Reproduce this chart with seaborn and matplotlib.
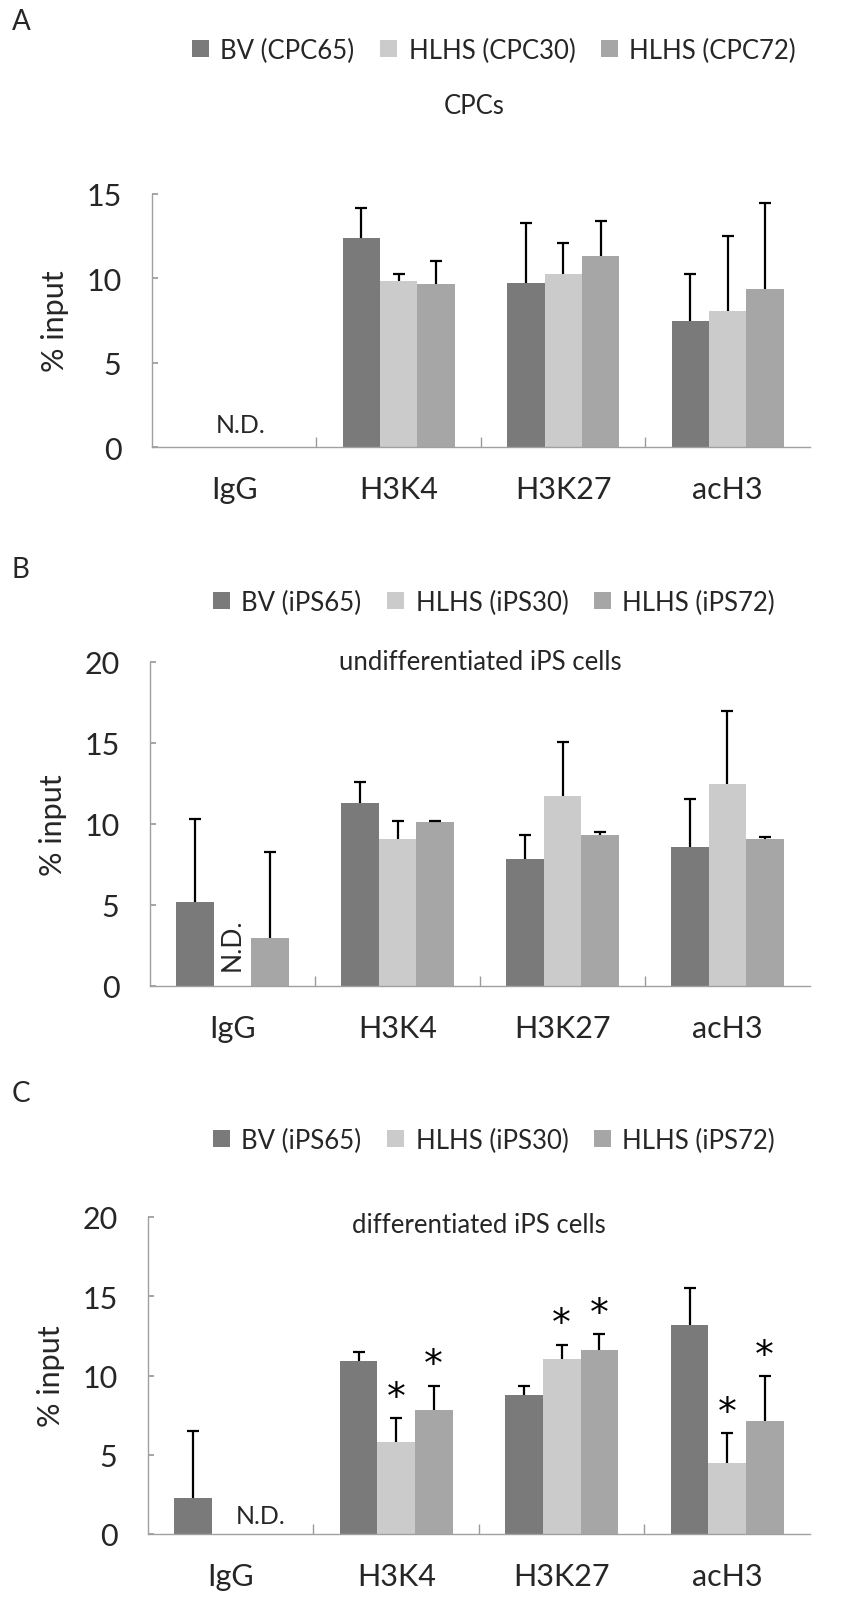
import numpy as np
import pandas as pd
import matplotlib
matplotlib.use("Agg")
import matplotlib.pyplot as plt
from matplotlib.patches import Patch
from matplotlib.container import BarContainer
import seaborn as sns

nan = np.nan
categories = ["IgG", "H3K4", "H3K27", "acH3"]

# Panel A: CPCs
a_series = ["BV (CPC65)", "HLHS (CPC30)", "HLHS (CPC72)"]
a_bv = [nan, 12.4, 9.7, 7.5]
a_bv_sd = [nan, 1.75, 3.6, 2.75]
a_h30 = [nan, 9.85, 10.25, 8.05]
a_h30_sd = [nan, 0.4, 1.85, 4.45]
a_h72 = [nan, 9.65, 11.35, 9.35]
a_h72_sd = [nan, 1.4, 2.05, 5.1]

# Panel B: undifferentiated iPS cells
b_series = ["BV (iPS65)", "HLHS (iPS30)", "HLHS (iPS72)"]
b_bv = [5.2, 11.3, 7.85, 8.55]
b_bv_sd = [5.1, 1.3, 1.5, 3.0]
b_h30 = [nan, 9.1, 11.7, 12.5]
b_h30_sd = [nan, 1.1, 3.35, 4.5]
b_h72 = [2.95, 10.1, 9.3, 9.1]
b_h72_sd = [5.3, 0.08, 0.2, 0.12]

# Panel C: differentiated iPS cells
c_series = ["BV (iPS65)", "HLHS (iPS30)", "HLHS (iPS72)"]
c_bv = [2.3, 10.9, 8.8, 13.2]
c_bv_sd = [4.2, 0.6, 0.55, 2.35]
c_h30 = [nan, 5.8, 11.05, 4.5]
c_h30_sd = [nan, 1.5, 0.9, 1.85]
c_h72 = [nan, 7.85, 11.6, 7.15]
c_h72_sd = [nan, 1.5, 1.0, 2.8]
c_h30_sig = [False, True, True, True]
c_h72_sig = [False, True, True, True]

colors = ["#7a7a7a", "#cbcbcb", "#a6a6a6"]

sns.set_theme(style="white")
plt.rcParams["font.family"] = ["Lato", "DejaVu Sans"]

W, H = 862, 1608
fig = plt.figure(figsize=(W / 100, H / 100), dpi=100)


def axes_px(left, top, right, bottom):
    return fig.add_axes([left / W, 1 - bottom / H, (right - left) / W, (bottom - top) / H])


def draw_panel(ax, series, vals, sds, ymax, title, title_xy, sig=None):
    rows = []
    for s, v in zip(series, vals):
        for c, x in zip(categories, v):
            rows.append({"cat": c, "series": s, "val": x})
    df = pd.DataFrame(rows).dropna()
    sns.barplot(data=df, x="cat", y="val", hue="series", order=categories,
                hue_order=series, palette=colors, width=0.68, errorbar=None,
                saturation=1, ax=ax, legend=False, linewidth=0)
    bar_conts = [c for c in ax.containers if isinstance(c, BarContainer)]
    for hi, cont in enumerate(bar_conts):
        for bar in cont:
            h = bar.get_height()
            if not np.isfinite(h) or h <= 0:
                continue
            xc = bar.get_x() + bar.get_width() / 2
            ci = int(round(xc))
            sd = sds[hi][ci]
            eb = ax.errorbar(xc, h, yerr=[[0], [sd]], fmt="none", ecolor="black",
                             elinewidth=1.6, capsize=4.5, capthick=1.6, zorder=3)
            caps = eb.lines[1]
            if len(caps) == 2:
                caps[0].set_visible(False)
            if sig is not None and sig[hi] is not None and sig[hi][ci]:
                ax.text(xc, h + sd + 0.15, "*", ha="center", va="bottom",
                        fontsize=27, color="black", family=["DejaVu Sans"])
    ax.set_xlim(-0.5, 3.5)
    ax.set_ylim(0, ymax)
    ax.set_yticks(np.arange(0, ymax + 1, 5))
    ax.set_xlabel("")
    ax.set_ylabel("% input", fontsize=22, labelpad=12)
    ax.tick_params(axis="y", labelsize=22, direction="in", length=4,
                   color="#9a9a9a", pad=22, left=True)
    ax.tick_params(axis="x", labelsize=22, length=0, pad=20)
    ax.set_xticks(range(len(categories)))
    ax.set_xticklabels(categories)
    ax.set_xticks([0.5, 1.5, 2.5], minor=True)
    ax.tick_params(axis="x", which="minor", direction="in", length=7,
                   color="#9a9a9a", bottom=True)
    for side in ["top", "right"]:
        ax.spines[side].set_visible(False)
    for side in ["left", "bottom"]:
        ax.spines[side].set_color("#a0a0a0")
        ax.spines[side].set_linewidth(1.0)
    ax.text(title_xy[0], title_xy[1], title, transform=ax.transAxes,
            ha="center", va="center", fontsize=18.5)


def legend_at(series, y):
    handles = [Patch(facecolor=c, edgecolor="none", label=s) for c, s in zip(colors, series)]
    fig.legend(handles=handles, loc="center", bbox_to_anchor=(494 / W, 1 - y / H),
               ncol=3, frameon=False, fontsize=18.5, handlelength=0.65,
               handleheight=0.65, columnspacing=1.0, handletextpad=0.45)


# Panel A
axA = axes_px(152, 195, 810, 448)
draw_panel(axA, a_series, [a_bv, a_h30, a_h72], [a_bv_sd, a_h30_sd, a_h72_sd],
           15, "CPCs", (0.49, 1.35))
axA.text(0.04, 1.35, "N.D.", ha="center", va="center", fontsize=18)
legend_at(a_series, 51)
fig.text(12 / W, 1 - 22 / H, "A", fontsize=20, ha="left", va="center")

# Panel B
axB = axes_px(150, 663, 810, 987)
draw_panel(axB, b_series, [b_bv, b_h30, b_h72], [b_bv_sd, b_h30_sd, b_h72_sd],
           20, "undifferentiated iPS cells", (0.50, 1.0))
axB.text(0.0, 2.6, "N.D.", ha="center", va="center", fontsize=19, rotation=90)
legend_at(b_series, 603)
fig.text(12 / W, 1 - 570 / H, "B", fontsize=20, ha="left", va="center")

# Panel C
axC = axes_px(148, 1218, 810, 1535)
draw_panel(axC, c_series, [c_bv, c_h30, c_h72], [c_bv_sd, c_h30_sd, c_h72_sd],
           20, "differentiated iPS cells", (0.50, 0.975),
           sig=[None, c_h30_sig, c_h72_sig])
axC.text(0.03, 1.15, "N.D.", ha="left", va="center", fontsize=18)
legend_at(c_series, 1141)
fig.text(12 / W, 1 - 1094 / H, "C", fontsize=20, ha="left", va="center")

fig.savefig("out.png", dpi=100)
